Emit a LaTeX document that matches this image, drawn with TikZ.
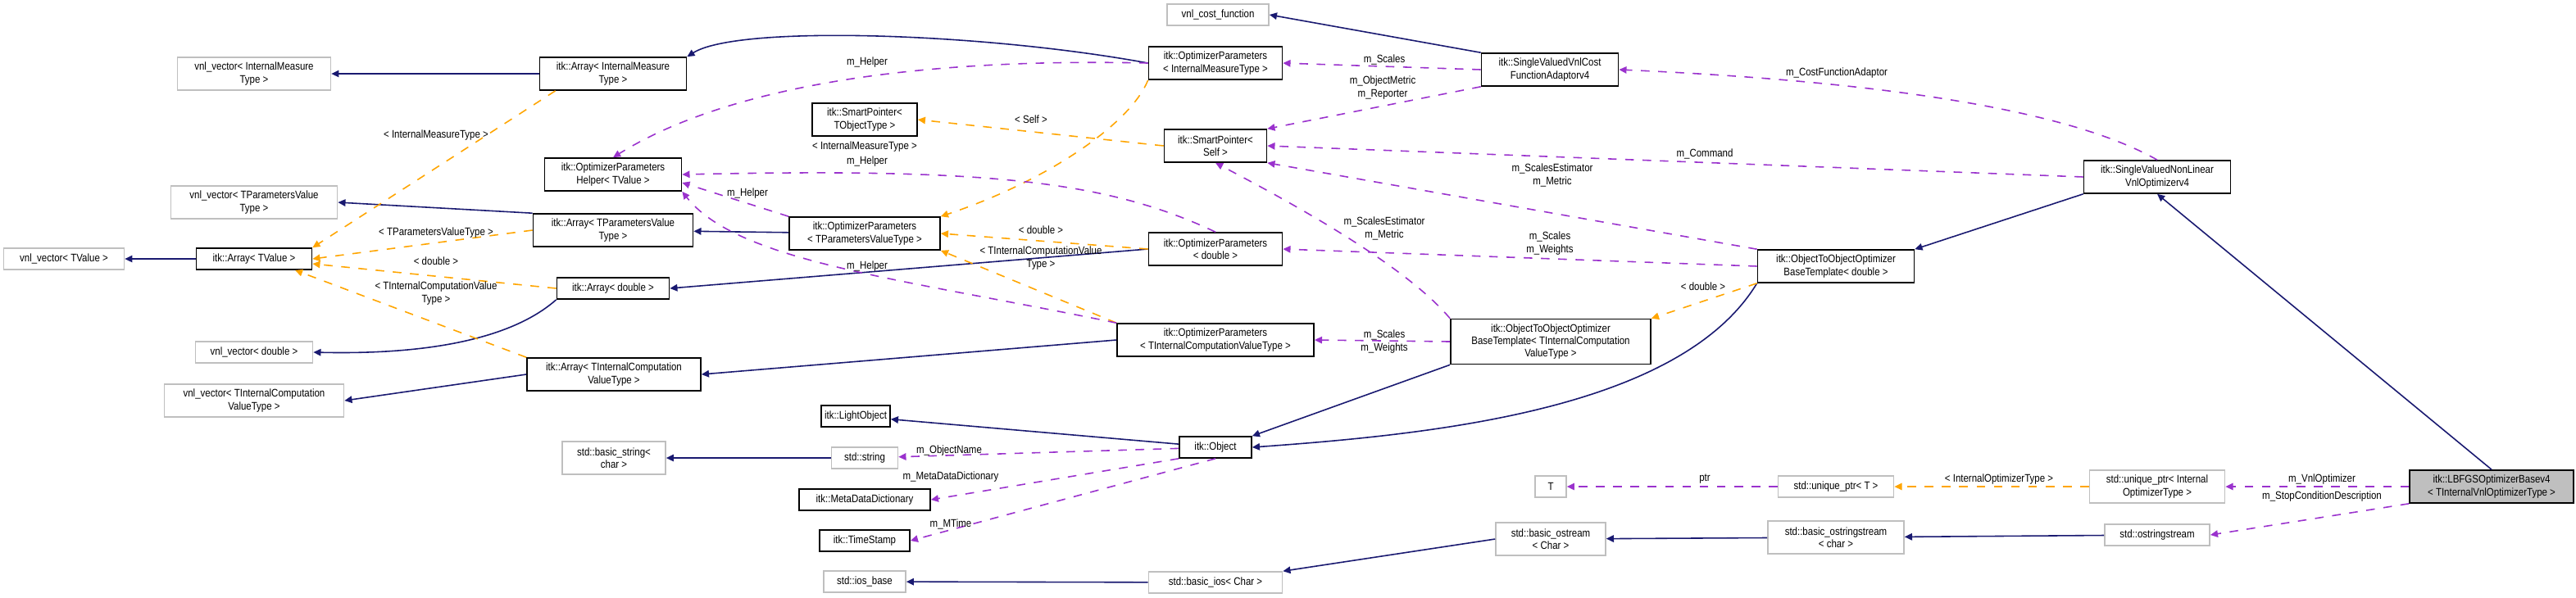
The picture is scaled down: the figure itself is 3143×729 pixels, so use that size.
\documentclass[tikz,border=0pt]{standalone}
\usepackage{fontspec}
\setmainfont[FakeStretch=0.86]{Liberation Sans}
\usetikzlibrary{arrows.meta}
\definecolor{nav}{HTML}{191970}
\definecolor{org}{HTML}{FFA500}
\definecolor{pur}{HTML}{9A32CD}
\definecolor{gb}{HTML}{BFBFBF}
\begin{document}
\begin{tikzpicture}[x=0.01cm,y=-0.01cm,
  cls/.style={draw=black,line width=0.45pt,inner sep=0pt,align=center,font=\fontsize{3.8}{4.3}\selectfont,minimum height=0.26cm},
  ext/.style={cls,draw=gb},
  two/.style={minimum height=0.40cm},
  lbl/.style={inner sep=0pt,align=center,font=\fontsize{3.8}{4.3}\selectfont},
  inh/.style={draw=nav,line width=0.45pt,-{Triangle[length=2.6pt,width=2.4pt]}},
  tpl/.style={draw=org,line width=0.45pt,dashed,-{Triangle[length=2.6pt,width=2.4pt]}},
  use/.style={draw=pur,line width=0.45pt,dashed,-{Triangle[length=2.6pt,width=2.4pt]}}]
\useasboundingbox (0,0) rectangle (3143,729);
% nodes
\node[ext,two,minimum width=1.87cm] (vIMT) at (310,90) {vnl\_vector< InternalMeasure\\Type >};
\node[cls,two,minimum width=1.79cm] (aIMT) at (748,90) {itk::Array< InternalMeasure\\Type >};
\node[cls,two,minimum width=1.67cm] (help) at (748,213) {itk::OptimizerParameters\\Helper< TValue >};
\node[ext,two,minimum width=2.03cm] (vTPVT) at (310,247) {vnl\_vector< TParametersValue\\Type >};
\node[cls,two,minimum width=1.95cm] (aTPVT) at (748,281) {itk::Array< TParametersValue\\Type >};
\node[ext,minimum width=1.47cm] (vTV) at (78,316) {vnl\_vector< TValue >};
\node[cls,minimum width=1.41cm] (aTV) at (310,316) {itk::Array< TValue >};
\node[cls,minimum width=1.37cm] (aD) at (748,352) {itk::Array< double >};
\node[cls,two,minimum width=1.84cm] (oTPVT) at (1055,285) {itk::OptimizerParameters\\< TParametersValueType >};
\node[cls,two,minimum width=1.28cm] (spT) at (1055,146) {itk::SmartPointer<\\TObjectType >};
\node[cls,two,minimum width=1.63cm] (oIMT) at (1483,77) {itk::OptimizerParameters\\< InternalMeasureType >};
\node[ext,minimum width=1.24cm] (vcf) at (1486,18) {vnl\_cost\_function};
\node[cls,two,minimum width=1.25cm] (spS) at (1483,178) {itk::SmartPointer<\\Self >};
\node[cls,two,minimum width=1.63cm] (oD) at (1483,304) {itk::OptimizerParameters\\< double >};
\node[cls,two,minimum width=1.67cm] (cfa) at (1891,85) {itk::SingleValuedVnlCost\\FunctionAdaptorv4};
\node[cls,two,minimum width=1.79cm] (svnl) at (2632,216) {itk::SingleValuedNonLinear\\VnlOptimizerv4};
\node[cls,two,minimum width=1.91cm] (o2oD) at (2240,325) {itk::ObjectToObjectOptimizer\\BaseTemplate< double >};
\node[cls,minimum height=0.55cm,minimum width=2.44cm] (o2oT) at (1892,417) {itk::ObjectToObjectOptimizer\\BaseTemplate< TInternalComputation\\ValueType >};
\node[cls,two,minimum width=2.40cm] (oTICVT) at (1483,415) {itk::OptimizerParameters\\< TInternalComputationValueType >};
\node[cls,minimum width=0.88cm] (obj) at (1483,546) {itk::Object};
\node[cls,minimum width=0.84cm] (lo) at (1044,508) {itk::LightObject};
\node[ext,minimum width=0.81cm] (str) at (1055,559) {std::string};
\node[ext,two,minimum width=1.26cm] (bstr) at (749,559) {std::basic\_string<\\char >};
\node[cls,minimum width=1.60cm] (mdd) at (1055,610) {itk::MetaDataDictionary};
\node[cls,minimum width=1.10cm] (ts) at (1055,660) {itk::TimeStamp};
\node[ext,minimum width=1.00cm] (iosb) at (1055,710) {std::ios\_base};
\node[ext,minimum width=1.43cm] (vD) at (310,430) {vnl\_vector< double >};
\node[cls,two,minimum width=2.12cm] (aTICVT) at (749,457) {itk::Array< TInternalComputation\\ValueType >};
\node[ext,two,minimum width=2.19cm] (vTICVT) at (310,489) {vnl\_vector< TInternalComputation\\ValueType >};
\node[ext,minimum width=0.38cm] (T) at (1892,594) {T};
\node[ext,minimum width=1.41cm] (upT) at (2240,594) {std::unique\_ptr< T >};
\node[ext,two,minimum width=1.65cm] (upI) at (2632,594) {std::unique\_ptr< Internal\\OptimizerType >};
\node[cls,two,fill=gb,minimum width=2.00cm] (lbfgs) at (3040,594) {itk::LBFGSOptimizerBasev4\\< TInternalVnlOptimizerType >};
\node[ext,minimum width=1.28cm] (oss) at (2632,653) {std::ostringstream};
\node[ext,two,minimum width=1.66cm] (boss) at (2240,656) {std::basic\_ostringstream\\< char >};
\node[ext,two,minimum width=1.34cm] (bos) at (1892,658) {std::basic\_ostream\\< Char >};
\node[ext,minimum width=1.63cm] (bios) at (1483,711) {std::basic\_ios< Char >};
% inheritance
\draw[inh] (aIMT) -- (vIMT);
\draw[inh] (oIMT.west) .. controls (1200,40) and (900,30) .. (aIMT.north east);
\draw[inh] (aTPVT.north west) -- (vTPVT.east);
\draw[inh] (oTPVT) -- (aTPVT);
\draw[inh] (aTV) -- (vTV);
\draw[inh] (aD.south west) .. controls (640,400) and (560,434) .. (vD.east);
\draw[inh] (oD.west) -- (aD.east);
\draw[inh] (aTICVT.west) -- (vTICVT.east);
\draw[inh] (oTICVT.west) -- (aTICVT.east);
\draw[inh] (cfa.north west) -- (vcf.east);
\draw[inh] (svnl.south west) -- (o2oD.north east);
\draw[inh] (lbfgs.north) -- (svnl.south);
\draw[inh] (o2oD.south west) .. controls (2050,500) and (1750,530) .. (obj.east);
\draw[inh] (o2oT.south west) -- (obj.north east);
\draw[inh] (obj) -- (lo);
\draw[inh] (str) -- (bstr);
\draw[inh] (oss) -- (boss);
\draw[inh] (boss) -- (bos);
\draw[inh] (bos.west) -- (bios.north east);
\draw[inh] (bios) -- (iosb);
% templates
\coordinate (c1) at ([xshift=0.2cm]aIMT.south west);
\draw[tpl] (c1) -- (aTV.north east);
\draw[tpl] (aTPVT.west) -- (aTV.east);
\draw[tpl] (aD.west) -- ([yshift=-0.06cm]aTV.east);
\draw[tpl] (aTICVT.north west) -- ([xshift=0.5cm]aTV.south);
\draw[tpl] (oIMT.south west) .. controls (1380,150) and (1280,220) .. (oTPVT.north east);
\draw[tpl] (oD.west) -- (oTPVT.east);
\draw[tpl] (oTICVT.north west) -- (oTPVT.south east);
\draw[tpl] (spS.west) -- (spT.east);
\draw[tpl] (o2oD.south west) -- (o2oT.north east);
\draw[tpl] (upI) -- (upT);
\node[lbl] (l1) at (532,165) {< InternalMeasureType >};
\node[lbl] (l2) at (532,284) {< TParametersValueType >};
\node[lbl] (l3) at (532,319) {< double >};
\node[lbl] (l4) at (532,358) {< TInternalComputationValue\\Type >};
\node[lbl] (l5) at (1055,179) {< InternalMeasureType >};
\node[lbl] (l6) at (1270,281) {< double >};
\node[lbl] (l7) at (1270,315) {< TInternalComputationValue\\Type >};
\node[lbl] (l8) at (1258,146) {< Self >};
\node[lbl] (l9) at (2078,350) {< double >};
\node[lbl] (l10) at (2439,585) {< InternalOptimizerType >};
% usage
\draw[use] (oIMT.west) .. controls (1100,70) and (880,110) .. (help.north);
\draw[use] (oD.north) .. controls (1350,220) and (1200,205) .. (help.east);
\draw[use] (oTPVT.north west) -- ([yshift=-0.1cm]help.east);
\draw[use] (oTICVT.north west) .. controls (1100,340) and (900,320) .. (help.south east);
\draw[use] (cfa.west) -- (oIMT.east);
\draw[use] (cfa.south west) -- (spS.north east);
\draw[use] (svnl.north) .. controls (2500,120) and (2200,95) .. (cfa.east);
\draw[use] (svnl.west) -- (spS.east);
\draw[use] (o2oD.north west) -- (spS.south east);
\draw[use] (o2oT.north west) .. controls (1720,330) and (1600,260) .. (spS.south);
\draw[use] (o2oD.west) -- (oD.east);
\draw[use] (o2oT.west) -- (oTICVT.east);
\draw[use] (obj) -- (str);
\draw[use] (obj.south west) -- (mdd.east);
\draw[use] (obj.south) -- (ts.east);
\draw[use] (upT) -- (T);
\draw[use] (lbfgs) -- (upI);
\draw[use] (lbfgs.south west) -- (oss.east);
\node[lbl] (u1) at (1058,76) {m\_Helper};
\node[lbl] (u2) at (1058,197) {m\_Helper};
\node[lbl] (u3) at (912,236) {m\_Helper};
\node[lbl] (u4) at (1058,325) {m\_Helper};
\node[lbl] (u5) at (1689,73) {m\_Scales};
\node[lbl] (u6) at (1687,107) {m\_ObjectMetric\\m\_Reporter};
\node[lbl] (u7) at (2241,89) {m\_CostFunctionAdaptor};
\node[lbl] (u8) at (2080,188) {m\_Command};
\node[lbl] (u9) at (1894,214) {m\_ScalesEstimator\\m\_Metric};
\node[lbl] (u10) at (1689,279) {m\_ScalesEstimator\\m\_Metric};
\node[lbl] (u11) at (1891,297) {m\_Scales\\m\_Weights};
\node[lbl] (u12) at (1689,417) {m\_Scales\\m\_Weights};
\node[lbl] (u13) at (1158,550) {m\_ObjectName};
\node[lbl] (u14) at (1160,582) {m\_MetaDataDictionary};
\node[lbl] (u15) at (1160,640) {m\_MTime};
\node[lbl] (u16) at (2080,585) {ptr};
\node[lbl] (u17) at (2833,585) {m\_VnlOptimizer};
\node[lbl] (u18) at (2833,606) {m\_StopConditionDescription};
\end{tikzpicture}
\end{document}
